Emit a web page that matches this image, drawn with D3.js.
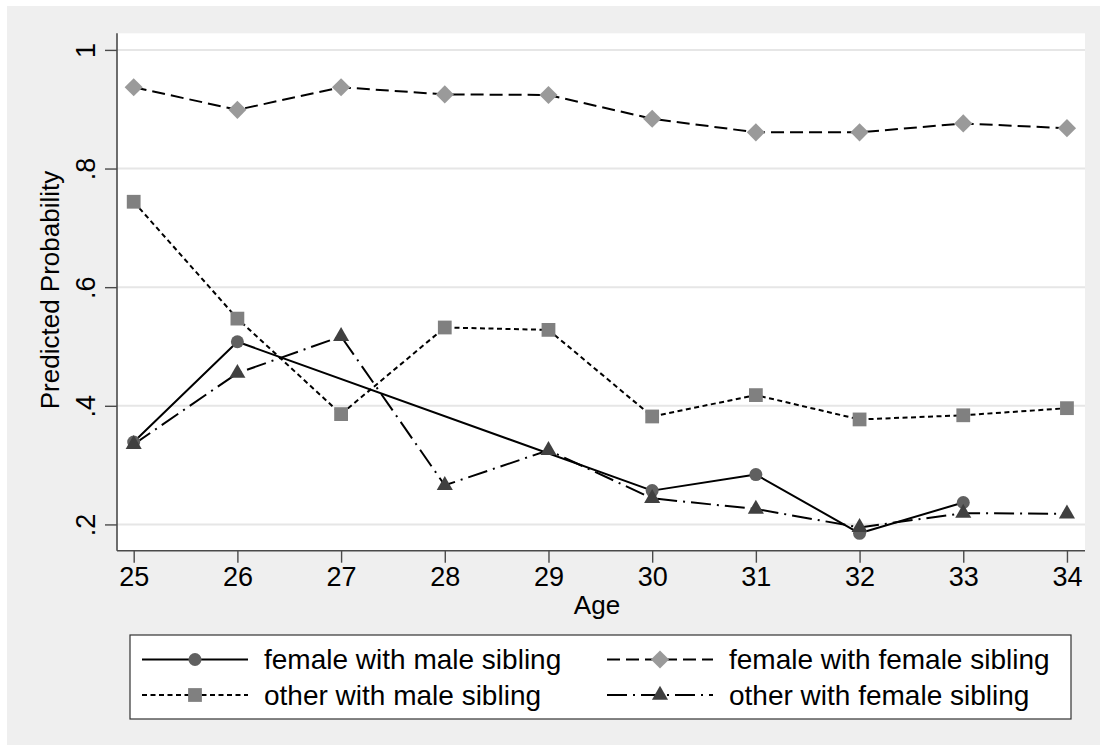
<!DOCTYPE html>
<html>
<head>
<meta charset="utf-8">
<script src="https://cdn.jsdelivr.net/npm/d3@7/dist/d3.min.js"></script>
<style>
  html, body { margin: 0; padding: 0; background: #ffffff; }
  svg { display: block; }
  text { font-family: "Liberation Sans", Arial, Helvetica, sans-serif; fill: #000; }
</style>
</head>
<body>
<svg id="chart" width="1107" height="751"></svg>
<script>
// Ages on the x axis
const ages = [25, 26, 27, 28, 29, 30, 31, 32, 33, 34];

// Predicted probabilities per group (null = no estimate at that age)
const femaleMaleSib   = [0.339, 0.508, null, null, null, 0.257, 0.284, 0.185, 0.237, null];
const femaleFemaleSib = [0.937, 0.899, 0.937, 0.925, 0.924, 0.884, 0.861, 0.861, 0.876, 0.868];
const otherMaleSib    = [0.744, 0.547, 0.386, 0.532, 0.528, 0.382, 0.418, 0.377, 0.384, 0.396];
const otherFemaleSib  = [0.335, 0.455, 0.517, 0.266, 0.325, 0.244, 0.226, 0.195, 0.219, 0.218];

// Axis ticks
const yTicks = [0.2, 0.4, 0.6, 0.8, 1];
const yTickLabels = [".2", ".4", ".6", ".8", "1"];
const seriesNames = [
  "female with male sibling",
  "female with female sibling",
  "other with male sibling",
  "other with female sibling"
];

const series = [
  { name: seriesNames[0], values: femaleMaleSib,   dash: null,         shape: "circle",   fill: "#606060" },
  { name: seriesNames[1], values: femaleFemaleSib, dash: "13,6",       shape: "diamond",  fill: "#9a9a9a" },
  { name: seriesNames[2], values: otherMaleSib,    dash: "5,3.5",      shape: "square",   fill: "#808080" },
  { name: seriesNames[3], values: otherFemaleSib,  dash: "20,6,2,6",   shape: "triangle", fill: "#404040" }
];

const svg = d3.select("#chart");

// graph region background
svg.append("rect")
  .attr("x", 7).attr("y", 6).attr("width", 1093).attr("height", 739)
  .attr("fill", "#efefef");

const plot = { left: 117, right: 1085, top: 33.3, bottom: 550.7 };

// plot region
svg.append("rect")
  .attr("x", plot.left).attr("y", plot.top)
  .attr("width", plot.right - plot.left).attr("height", plot.bottom - plot.top)
  .attr("fill", "#ffffff");

const x = d3.scaleLinear().domain([24.839, 34.174]).range([plot.left, plot.right]);
const y = d3.scaleLinear().domain([0.1557, 1.028]).range([plot.bottom, plot.top]);

// horizontal grid lines
svg.append("g")
  .selectAll("line")
  .data(yTicks)
  .join("line")
  .attr("x1", plot.left).attr("x2", plot.right)
  .attr("y1", d => y(d)).attr("y2", d => y(d))
  .attr("stroke", "#e6e6e6").attr("stroke-width", 2);

// y axis
const yAxis = d3.axisLeft(y)
  .tickValues(yTicks)
  .tickSize(12)
  .tickPadding(8)
  .tickFormat((d, i) => yTickLabels[i]);
const gy = svg.append("g").attr("transform", `translate(${plot.left},0)`).call(yAxis);
gy.select(".domain").attr("stroke", "#4a4a4a").attr("stroke-width", 1.6)
  .attr("d", `M0,${plot.top}V${plot.bottom}`);
gy.selectAll(".tick line").attr("stroke", "#4a4a4a").attr("stroke-width", 1.4);
gy.selectAll(".tick text")
  .attr("font-size", 27)
  .attr("text-anchor", "middle")
  .attr("x", null).attr("dy", null)
  .attr("transform", "translate(-22,0) rotate(-90)")
  .attr("y", 0);

// x axis
const xAxis = d3.axisBottom(x)
  .tickValues(ages)
  .tickSize(12)
  .tickPadding(4)
  .tickFormat(d3.format("d"));
const gx = svg.append("g").attr("transform", `translate(0,${plot.bottom})`).call(xAxis);
gx.select(".domain").attr("stroke", "#4a4a4a").attr("stroke-width", 1.6)
  .attr("d", `M${plot.left},0H${plot.right}`);
gx.selectAll(".tick line").attr("stroke", "#4a4a4a").attr("stroke-width", 1.4);
gx.selectAll(".tick text").attr("font-size", 27);

// axis titles
svg.append("text")
  .attr("x", 597).attr("y", 614)
  .attr("text-anchor", "middle")
  .attr("font-size", 26)
  .text("Age");
svg.append("text")
  .attr("transform", "translate(59,290) rotate(-90)")
  .attr("text-anchor", "middle")
  .attr("font-size", 26)
  .text("Predicted Probability");

// marker shapes
function markerPath(shape) {
  switch (shape) {
    case "circle":   return d3.symbol(d3.symbolCircle, 133)();
    case "square":   return d3.symbol(d3.symbolSquare, 190)();
    case "diamond":  return d3.symbol(d3.symbolSquare, 165)();
    case "triangle": return d3.symbol(d3.symbolTriangle, 112)();
  }
}
function markerTransform(shape, px, py) {
  return shape === "diamond"
    ? `translate(${px},${py}) rotate(45)`
    : `translate(${px},${py})`;
}

const line = d3.line()
  .x(d => x(d.age))
  .y(d => y(d.v));

// lines, then markers (missing ages are skipped, the line connects across them)
series.forEach(s => {
  const pts = ages.map((a, i) => ({ age: a, v: s.values[i] })).filter(d => d.v != null);
  s.pts = pts;
  svg.append("path")
    .datum(pts)
    .attr("d", line)
    .attr("fill", "none")
    .attr("stroke", "#000")
    .attr("stroke-width", 2)
    .attr("stroke-dasharray", s.dash)
    .attr("stroke-linejoin", "round");
});
series.forEach(s => {
  svg.append("g")
    .selectAll("path")
    .data(s.pts)
    .join("path")
    .attr("d", markerPath(s.shape))
    .attr("transform", d => markerTransform(s.shape, x(d.age), y(d.v)))
    .attr("fill", s.fill);
});

// legend
const legend = svg.append("g");
legend.append("rect")
  .attr("x", 130).attr("y", 635).attr("width", 941).attr("height", 84)
  .attr("fill", "#ffffff").attr("stroke", "#333").attr("stroke-width", 1.2);

const cols = [142, 607];
const rows = [659.5, 695];
series.forEach((s, i) => {
  const col = i % 2, row = Math.floor(i / 2);
  const x0 = cols[col], yy = rows[row];
  const lw = 106;
  legend.append("line")
    .attr("x1", x0).attr("x2", x0 + lw)
    .attr("y1", yy).attr("y2", yy)
    .attr("stroke", "#000").attr("stroke-width", 2)
    .attr("stroke-dasharray", s.dash);
  legend.append("path")
    .attr("d", markerPath(s.shape))
    .attr("transform", markerTransform(s.shape, x0 + lw / 2, yy))
    .attr("fill", s.fill);
  legend.append("text")
    .attr("x", x0 + 122).attr("y", yy)
    .attr("dy", "0.35em")
    .attr("font-size", 28)
    .text(s.name);
});
</script>
</body>
</html>
